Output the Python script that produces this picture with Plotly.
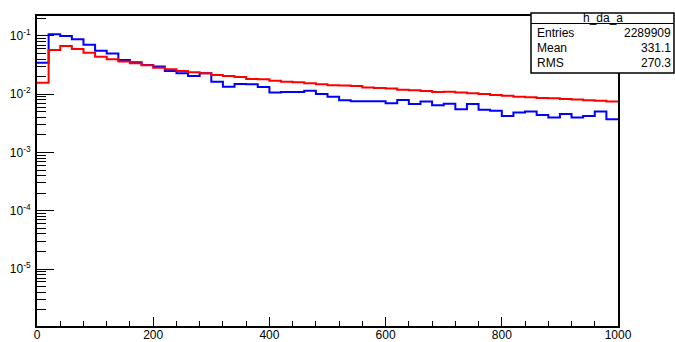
import numpy as np
import plotly.graph_objects as go

# ---- data ----
bin_edges = np.arange(0, 1001, 20)
blue_vals = [0.0348, 0.107, 0.100, 0.0877, 0.0709, 0.056, 0.0498, 0.0388, 0.0353, 0.0318,
             0.0298, 0.0251, 0.0229, 0.0206, 0.0229, 0.0164, 0.0135, 0.0150, 0.0148, 0.0133,
             0.0107, 0.0109, 0.0109, 0.0115, 0.0101, 0.0091, 0.0079, 0.0076, 0.0076, 0.0076,
             0.0070, 0.0080, 0.0068, 0.0075, 0.0065, 0.0069, 0.0055, 0.0068, 0.0054, 0.0052,
             0.00425, 0.00484, 0.00504, 0.00442, 0.00397, 0.00459, 0.00397, 0.00425, 0.00504, 0.00372]
red_vals = [0.0158, 0.0575, 0.0673, 0.0598, 0.0518, 0.0442, 0.0398, 0.0363, 0.034, 0.0314,
            0.0286, 0.0268, 0.0251, 0.0238, 0.0229, 0.0214, 0.0206, 0.0198, 0.0183, 0.0181,
            0.0171, 0.0164, 0.0160, 0.0154, 0.0148, 0.0142, 0.0141, 0.0139, 0.0130, 0.0128,
            0.0125, 0.0120, 0.0117, 0.0114, 0.0109, 0.0110, 0.0107, 0.0104, 0.0101, 0.0097,
            0.0094, 0.0091, 0.0089, 0.0086, 0.0085, 0.0083, 0.0081, 0.0079, 0.0077, 0.0075]
x_tick_vals = [0, 200, 400, 600, 800, 1000]
y_tick_vals = [1e-5, 1e-4, 1e-3, 1e-2, 1e-1]
y_tick_text = ["10<sup>-5</sup>", "10<sup>-4</sup>", "10<sup>-3</sup>", "10<sup>-2</sup>", "10<sup>-1</sup>"]
stats_title = "h_da_a"
stats_names = ["Entries", "Mean", "RMS"]
stats_values = ["2289909", "331.1", "270.3"]

FONT = "Liberation Sans, Arial, sans-serif"

fig = go.Figure()
for vals, col in [(blue_vals, "#0000FF"), (red_vals, "#FF0000")]:
    fig.add_trace(go.Scatter(
        x=list(bin_edges), y=list(vals) + [vals[-1]],
        mode="lines", line=dict(color=col, width=2, shape="hv"),
        showlegend=False, hoverinfo="skip"))

y_minor = [m * 10.0 ** e for e in range(-6, 0) for m in range(2, 10)]
x_minor = list(range(0, 1001, 40))

fig.update_layout(
    width=675, height=342,
    margin=dict(l=37, r=57, t=16, b=16, autoexpand=False),
    paper_bgcolor="white", plot_bgcolor="white",
    font=dict(family=FONT, size=12, color="black"),
    xaxis=dict(range=[0, 1000], showgrid=False, zeroline=False, automargin=False,
               showline=True, mirror=True, linecolor="black", linewidth=2,
               ticks="inside", ticklen=9, tickwidth=1, tickcolor="black",
               tickmode="array", tickvals=x_tick_vals,
               ticktext=[str(v) for v in x_tick_vals],
               tickfont=dict(family=FONT, size=12), ticklabelstandoff=-3,
               minor=dict(tickmode="array", tickvals=x_minor, ticks="inside",
                          ticklen=5, tickwidth=1, tickcolor="black", showgrid=False)),
    yaxis=dict(type="log", range=[-5.978, -0.657], showgrid=False, zeroline=False,
               automargin=False,
               showline=True, mirror=True, linecolor="black", linewidth=2,
               ticks="inside", ticklen=17, tickwidth=1, tickcolor="black",
               tickmode="array", tickvals=y_tick_vals, ticktext=y_tick_text,
               tickfont=dict(family=FONT, size=12), ticklabelstandoff=2,
               minor=dict(tickmode="array", tickvals=y_minor, ticks="inside",
                          ticklen=9, tickwidth=1, tickcolor="black", showgrid=False)),
)

# stats box
def px_x(p):
    return (p - 37) / 581.0

def px_y(p):
    return (326 - p) / 310.0

fig.add_shape(type="rect", xref="paper", yref="paper",
              x0=px_x(531), x1=px_x(674), y0=px_y(73), y1=px_y(13),
              line=dict(color="black", width=1.5), fillcolor="white", layer="above")
fig.add_shape(type="line", xref="paper", yref="paper",
              x0=px_x(531), x1=px_x(674), y0=px_y(23.5), y1=px_y(23.5),
              line=dict(color="black", width=1), layer="above")
fig.add_annotation(xref="paper", yref="paper", x=px_x(602.5), y=px_y(18.5),
                   text=stats_title, showarrow=False, xanchor="center", yanchor="middle",
                   font=dict(family=FONT, size=12, color="black"))
row_y = [33.3, 48.3, 62.7]
for name, val, ry in zip(stats_names, stats_values, row_y):
    fig.add_annotation(xref="paper", yref="paper", x=px_x(535), y=px_y(ry),
                       text=name, showarrow=False, xanchor="left", yanchor="middle",
                       font=dict(family=FONT, size=12, color="black"))
    fig.add_annotation(xref="paper", yref="paper", x=px_x(673), y=px_y(ry),
                       text=val, showarrow=False, xanchor="right", yanchor="middle",
                       font=dict(family=FONT, size=12, color="black"))

fig.write_html("out.html", config={"displayModeBar": False},
               post_script="document.body.style.margin='0px';document.body.style.padding='0px';")
